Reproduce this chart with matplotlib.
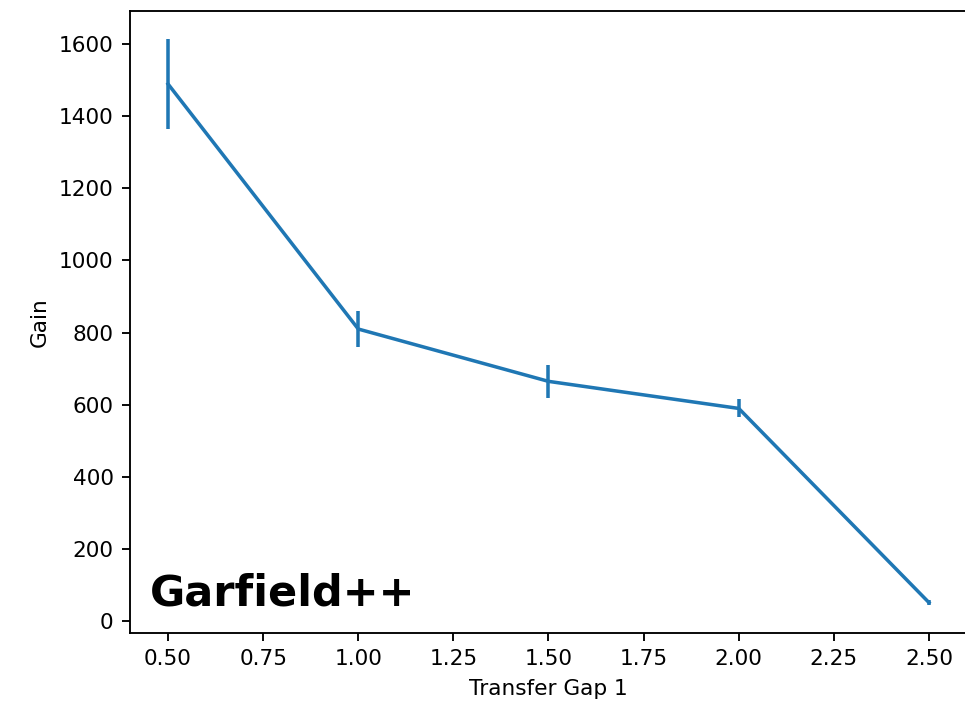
import matplotlib
matplotlib.use("Agg")

import matplotlib.pyplot as plt

# ── Data ──────────────────────────────────────────────────────────────────────
transfer_gap = [0.5, 1.0, 1.5, 2.0, 2.5]
gain         = [1489, 810, 665, 590, 52]
gain_err     = [124, 51, 46, 25, 6]

LINE_COLOR = "#1f77b4"
SCALE      = 1.69          # reference is a ~169 dpi render, cropped

plt.rcParams.update({
    "font.size": 10 * SCALE * 0.92,
    "axes.linewidth": 0.8 * SCALE,
    "xtick.major.size": 3.5 * SCALE,
    "ytick.major.size": 3.5 * SCALE,
    "xtick.major.width": 0.8 * SCALE,
    "ytick.major.width": 0.8 * SCALE,
    "xtick.major.pad": 3.5 * SCALE,
    "ytick.major.pad": 3.5 * SCALE,
})

fig = plt.figure(figsize=(9.65, 7.04), dpi=100)
# right edge of the axes sits right at the image border, as in the reference
ax = fig.add_axes([130 / 965, 71 / 704, 837 / 965, 622 / 704])

ax.errorbar(transfer_gap, gain, yerr=gain_err, color=LINE_COLOR,
            linewidth=1.5 * SCALE, elinewidth=1.5 * SCALE)

ax.set_xlabel("Transfer Gap 1", labelpad=4 * SCALE)
ax.set_ylabel("Gain", labelpad=4 * SCALE)

# Logo-style watermark in the lower-left corner
ax.text(0.024, 0.045, "Garfield++", transform=ax.transAxes,
        fontsize=31, fontweight="bold", color="black",
        ha="left", va="baseline")

fig.savefig("out.png", dpi=100)
